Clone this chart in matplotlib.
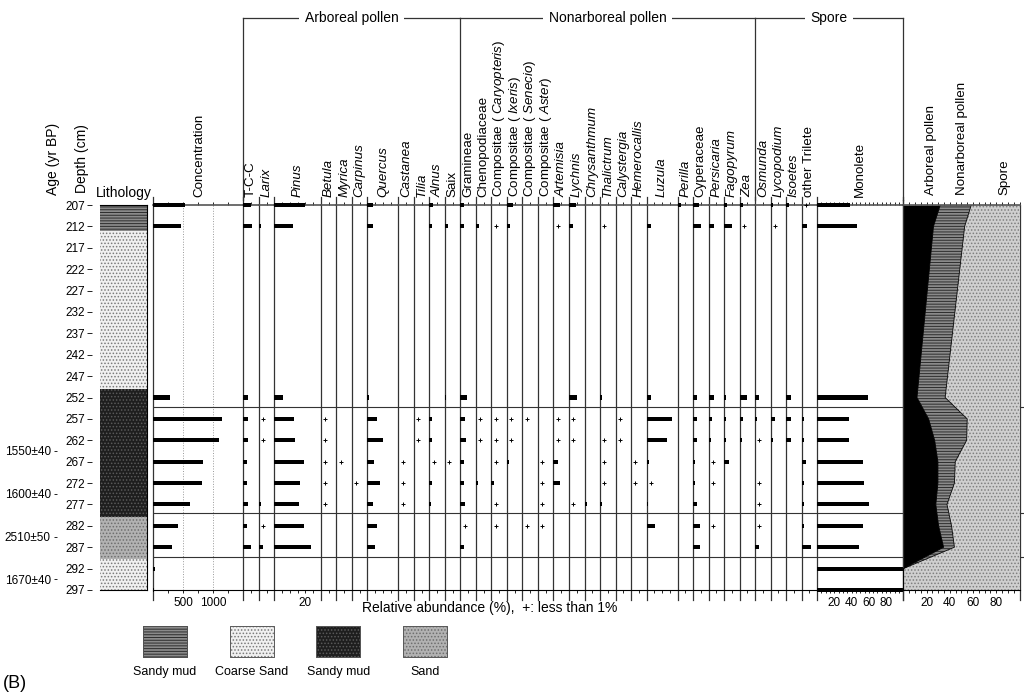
import numpy as np
import matplotlib
matplotlib.use('Agg')
import matplotlib.pyplot as plt
from matplotlib.patches import Rectangle

plt.rcParams['font.family'] = ['Liberation Sans', 'DejaVu Sans']
plt.rcParams['mathtext.fontset'] = 'custom'
plt.rcParams['mathtext.rm'] = 'Liberation Sans'
plt.rcParams['mathtext.it'] = 'Liberation Sans:italic'
plt.rcParams['hatch.linewidth'] = 0.7

# ---- dane ----
P = '+'   # mniej niz 1%
depths = [207, 212, 252, 257, 262, 267, 272, 277, 282, 287, 292, 297]
depth_ticks = list(range(207, 298, 5))
age_depths = [264.5, 274.5, 284.5, 294.5]
age_labels = ['1550±40', '1600±40', '2510±50', '1670±40']
zone_depths = [254.2, 279.0, 289.2]

concentration = [530, 460, 280, 1140, 1100, 830, 815, 610, 415, 315, 20, 15]

tcc = [4.7, 5.3, 2.8, 3.2, 2.8, 2.2, 2.2, 2.8, 2.6, 4.7, 0, 0]
larix = [0, 1.5, 0, P, P, 0, 0, 1.2, P, 2.4, 0, 0]
pinus = [20, 12, 5.6, 12.5, 13.5, 19.4, 16.8, 16, 19.4, 23.7, 0, 0]
betula = [0, 0, 0, P, P, P, P, P, 0, 0, 0, 0]
myrica = [0, 0, 0, 0, 0, P, 0, 0, 0, 0, 0, 0]
carpinus = [0, 0, 0, 0, 0, 0, P, 0, 0, 0, 0, 0]
quercus = [3.7, 3.7, 1, 6.5, 10, 4.3, 8, 3.7, 6.2, 4.7, 0, 0]
castanea = [0, 0, 0, 0, 0, P, P, P, 0, 0, 0, 0]
tilia = [0, 0, 0, P, P, 0, 0, 0, 0, 0, 0, 0]
alnus = [2.2, 1.7, 0, 1.5, 1.7, P, 1.5, 0.8, 0, 0, 0, 0]
saix = [0, 1.7, 1, 0, 0, P, 0, 0, 0, 0, 0, 0]
gramineae = [2.6, 2.2, 4.3, 3.2, 3.7, 2.2, 2.2, 2.8, P, 2.2, 0, 0]
chenopodiaceae = [0, 2.2, 0, P, P, 0, 1.3, 0, 0, 0, 0, 0]
comp_caryopteris = [0, P, 0, P, P, P, 1.5, P, P, 0, 0, 0]
comp_ixeris = [3.9, 2.2, 0, P, P, 1.5, 0, 0, 0, 0, 0, 0]
comp_senecio = [0, 0, 0, P, 0, 0, 0, 0, P, 0, 0, 0]
comp_aster = [0, 0, 0, 0, 0, P, P, P, P, 0, 0, 0]
artemisia = [3.9, P, 0, P, P, 2.8, 3.9, 0, 0, 0, 0, 0]
lychnis = [4.3, 2.6, 5.4, P, P, 0, 0, P, 0, 0, 0, 0]
chrysanthmum = [0, 0, 0, 0, 0, 0, 0, 1.9, 0, 0, 0, 0]
thalictrum = [0, P, 1.5, 0, P, P, P, 1.3, 0, 0, 0, 0]
calystergia = [0, 0, 0, P, P, 0, 0, 0, 0, 0, 0, 0]
hemerocallis = [0, 0, 0, 0, 0, P, P, 0, 0, 0, 0, 0]
luzula = [0, 2.8, 2.8, 16.5, 13, 1.7, P, 1, 5.4, 0, 0, 0]
perilla = [2.2, 0, 0, 0, 0, 0, 0, 0, 0, 0, 0, 0]
cyperaceae = [4, 5.4, 2.8, 2.8, 2.8, 1.3, 1, 2.6, 4.3, 4.7, 0, 0]
persicaria = [0, 3.6, 3.2, 2.2, 1.5, P, P, 0, P, 0, 0, 0]
fagopyrum = [2, 5, 1.3, 1.5, 1.5, 3, 0, 0, 0, 0, 0, 0]
zea = [2, P, 4.8, 2.2, 1.7, 0, 0, 0, 0, 0, 0, 0]
osmunda = [0, 0, 2.8, 1.3, P, 0, P, P, P, 2.2, 0, 0]
lycopodium = [1.5, P, 0, 3, 1.7, 0, 0, 0, 0, 0, 0, 0]
isoetes = [1.7, 0, 3, 3, 3.2, 0, 0, 0, 0, 0, 0, 0]
other_trilete = [P, 3.4, 0, 1.5, 1.5, 2.8, 1.5, 1.5, 1.5, 5.8, 0, 0]
monolete = [38, 45.7, 58.5, 37, 37, 53.5, 54.6, 60.5, 53.5, 48.8, 100, 100]

arboreal_sum = [31.8, 26, 11.8, 21.8, 27, 29.8, 29.8, 28, 30.4, 34.7, 0, 0]
ap_nap_sum = [58.5, 52.8, 36, 55, 54.5, 44.7, 44, 37.6, 41.5, 44, 0, 0]

# (etykieta, kursywa, szerokosc w %, wartosci)
arboreal = [
    ('T-C-C', False, 10, tcc), ('Larix', True, 10, larix), ('Pinus', True, 30, pinus),
    ('Betula', True, 10, betula), ('Myrica', True, 10, myrica), ('Carpinus', True, 10, carpinus),
    ('Quercus', True, 20, quercus), ('Castanea', True, 10, castanea), ('Tilia', True, 10, tilia),
    ('Alnus', True, 10, alnus), ('Saix', False, 10, saix),
]
nonarboreal = [
    ('Gramineae', False, 10, gramineae), ('Chenopodiaceae', False, 10, chenopodiaceae),
    ('Compositae ( $\\mathit{Caryopteris}$)', False, 10, comp_caryopteris),
    ('Compositae ( $\\mathit{Ixeris}$)', False, 10, comp_ixeris),
    ('Compositae ( $\\mathit{Senecio}$)', False, 10, comp_senecio),
    ('Compositae ( $\\mathit{Aster}$)', False, 10, comp_aster),
    ('Artemisia', True, 10, artemisia), ('Lychnis', True, 10, lychnis),
    ('Chrysanthmum', True, 10, chrysanthmum), ('Thalictrum', True, 10, thalictrum),
    ('Calystergia', True, 10, calystergia), ('Hemerocallis', True, 10, hemerocallis),
    ('Luzula', True, 20, luzula), ('Perilla', True, 10, perilla),
    ('Cyperaceae', False, 10, cyperaceae), ('Persicaria', True, 10, persicaria),
    ('Fagopyrum', True, 10, fagopyrum), ('Zea', True, 10, zea),
]
spores = [
    ('Osmunda', True, 10, osmunda), ('Lycopodium', True, 10, lycopodium),
    ('Isoetes', True, 10, isoetes), ('other Trilete', False, 10, other_trilete),
]

lith_top = [207, 213, 250, 280, 289.7]
lith_bottom = [213, 250, 280, 289.7, 297]
lith_type = ['mud', 'coarse', 'mud_dark', 'sand', 'coarse']
legend_types = ['mud', 'coarse', 'mud_dark', 'sand']
legend_labels = ['Sandy mud', 'Coarse Sand', 'Sandy mud', 'Sand']

styles = {
    'mud': dict(facecolor='#8a8a8a', edgecolor='#2e2e2e', hatch='------'),
    'coarse': dict(facecolor='#f0f0f0', edgecolor='#7a7a7a', hatch='.....'),
    'mud_dark': dict(facecolor='#1e1e1e', edgecolor='#5a5a5a', hatch='.....'),
    'sand': dict(facecolor='#b2b2b2', edgecolor='#6e6e6e', hatch='.....'),
    'spore': dict(facecolor='#cfcfcf', edgecolor='#7e7e7e', hatch='.....'),
}

# ---- uklad (piksele) ----
W, H = 1024, 692
Y0, Y1 = 205, 590
PX_PCT = 1.551
fig = plt.figure(figsize=(W / 100, H / 100), dpi=100)

ov = fig.add_axes([0, 0, 1, 1])
ov.set_xlim(0, W)
ov.set_ylim(H, 0)
ov.axis('off')


def px_axes(x0, x1, y0=Y0, y1=Y1):
    return fig.add_axes([x0 / W, 1 - y1 / H, (x1 - x0) / W, (y1 - y0) / H])


HSPAN = Y1 - Y0


def strat_axes(x0, x1, xmax, step, labels=()):
    ax = px_axes(x0, x1)
    ax.set_xlim(0, xmax)
    ax.set_ylim(297, 207)
    ax.patch.set_visible(False)
    ax.spines['left'].set_visible(False)
    ax.spines['right'].set_visible(False)
    ax.spines['top'].set_color('#555555')
    ax.spines['top'].set_linewidth(1.2)
    ax.spines['bottom'].set_linewidth(0.8)
    ticks = np.arange(0, xmax + 1e-6, step)
    ax.set_xticks(ticks)
    ax.set_xticklabels([str(int(t)) if int(t) in labels else '' for t in ticks])
    ax.tick_params(axis='x', top=True, bottom=True, direction='out',
                   length=2.5, width=0.6, labelsize=8.5, pad=2.5)
    ax.set_yticks([])
    ax.axvline(0, ymin=-10 / HSPAN, ymax=1 + 8 / HSPAN, color='#333333',
               lw=0.9, clip_on=False)
    return ax


def draw_values(ax, vals, plus_x=2.7):
    bd = [d for d, v in zip(depths, vals) if v != P and v > 0]
    bv = [v for v in vals if v != P and v > 0]
    ax.barh(bd, bv, height=0.95, color='black', clip_on=False, zorder=3)
    pd_ = [d for d, v in zip(depths, vals) if v == P]
    ax.plot([plus_x] * len(pd_), pd_, ls='none', marker='+', ms=3, mew=0.7,
            color='black', clip_on=False, zorder=3)


def head_label(cx, text, italic=False):
    ov.text(cx, 197, text, rotation=90, ha='center', va='bottom', fontsize=9.6,
            fontstyle='italic' if italic else 'normal')


# koncentracja
ax = strat_axes(153.3, 243.3, 1500, 250, labels=(500, 1000))
for g in (500, 1000):
    ax.axvline(g, color='#999999', ls=':', lw=0.7)
for z in zone_depths:
    ax.axhline(z, color='#333333', lw=0.8)
draw_values(ax, concentration)
head_label(199, 'Concentration')

# taksony
cur = 243.3
group_bounds = []
for group in (arboreal, nonarboreal, spores):
    group_bounds.append(cur)
    for label, ital, wpct, vals in group:
        x1 = cur + wpct * PX_PCT
        ax = strat_axes(cur, x1, wpct, 5, labels=(20,) if label == 'Pinus' else ())
        for z in zone_depths:
            ax.axhline(z, color='#333333', lw=0.8)
        draw_values(ax, vals)
        head_label((cur + x1) / 2, label, ital)
        cur = x1

# Monolete
ax = strat_axes(cur, 903.3, 100, 5, labels=(20, 40, 60, 80))
for z in zone_depths:
    ax.axhline(z, color='#333333', lw=0.8)
draw_values(ax, monolete)
head_label((cur + 903.3) / 2, 'Monolete')
group_bounds.append(903.3)

# diagram sumaryczny
ax = strat_axes(903.3, 1019.5, 100, 5, labels=(20, 40, 60, 80))
ap = np.array(arboreal_sum)
apn = np.array(ap_nap_sum)
ax.fill_betweenx(depths, 0, ap, color='black', lw=0)
ax.fill_betweenx(depths, ap, apn, linewidth=0, **styles['mud'])
ax.fill_betweenx(depths, apn, 100, linewidth=0, **styles['spore'])
ax.plot(ap, depths, color='black', lw=0.6)
ax.plot(apn, depths, color='black', lw=0.6)
ax.axvline(100, ymin=-10 / HSPAN, ymax=1, color='#333333', lw=0.9, clip_on=False)
for z in zone_depths:
    ax.plot([100, 104], [z, z], color='#333333', lw=0.8, clip_on=False)
ov.text(930.8, 195, 'Arboreal pollen', rotation=90, ha='center', va='bottom', fontsize=9.6)
ov.text(962.5, 195, 'Nonarboreal pollen', rotation=90, ha='center', va='bottom', fontsize=9.6)
ov.text(1004, 195, 'Spore', rotation=90, ha='center', va='bottom', fontsize=9.6)

# nawiasy grup
for name, xa, xb in zip(['Arboreal pollen', 'Nonarboreal pollen', 'Spore'],
                        group_bounds[:-1], group_bounds[1:]):
    ov.plot([xa, xb], [18, 18], color='#333333', lw=0.9)
    ov.text((xa + xb) / 2, 18, name, ha='center', va='center', fontsize=10,
            bbox=dict(facecolor='white', edgecolor='none', pad=4))
for xb in group_bounds:
    ov.plot([xb, xb], [18, 200], color='#333333', lw=0.9)
ov.plot([903.3, 903.3], [200, 600], color='#333333', lw=0.9)

# litologia
axl = px_axes(100, 147)
axl.set_xlim(0, 1)
axl.set_ylim(297, 207)
for t, b, k in zip(lith_top, lith_bottom, lith_type):
    axl.axhspan(t, b, linewidth=0, **styles[k])
for s in axl.spines.values():
    s.set_linewidth(0.8)
axl.set_xticks([])
axl.set_yticks(depth_ticks)
axl.spines['left'].set_position(('outward', 6))
axl.spines['left'].set_visible(False)
axl.tick_params(axis='y', length=3.5, width=0.6, labelsize=8.5, pad=1)
ov.text(124, 197, 'Lithology', ha='center', va='baseline', fontsize=10)

# wiek
axa = px_axes(57, 58)
axa.set_ylim(297, 207)
axa.set_yticks(age_depths)
axa.set_yticklabels(age_labels)
axa.set_xticks([])
for s in axa.spines.values():
    s.set_visible(False)
axa.patch.set_visible(False)
axa.tick_params(axis='y', length=2.5, width=0.6, labelsize=8.5, pad=2)

ov.text(82, 193, 'Depth (cm)', rotation=90, ha='center', va='bottom', fontsize=10)
ov.text(53, 195, 'Age (yr BP)', rotation=90, ha='center', va='bottom', fontsize=10)
ov.text(490, 608, 'Relative abundance (%),  +: less than 1%', ha='center',
        va='center', fontsize=10)

# legenda
for i, (k, lab) in enumerate(zip(legend_types, legend_labels)):
    x = 143 + i * 86.7
    ov.add_patch(Rectangle((x, 626), 44, 31, linewidth=0.6, **styles[k]))
    ov.add_patch(Rectangle((x, 626), 44, 31, fill=False, edgecolor='#555555', linewidth=0.6))
    ov.text(x + 22, 672, lab, ha='center', va='center', fontsize=9)
ov.text(3, 684, '(B)', ha='left', va='center', fontsize=13)

fig.savefig('out.png', dpi=100)
